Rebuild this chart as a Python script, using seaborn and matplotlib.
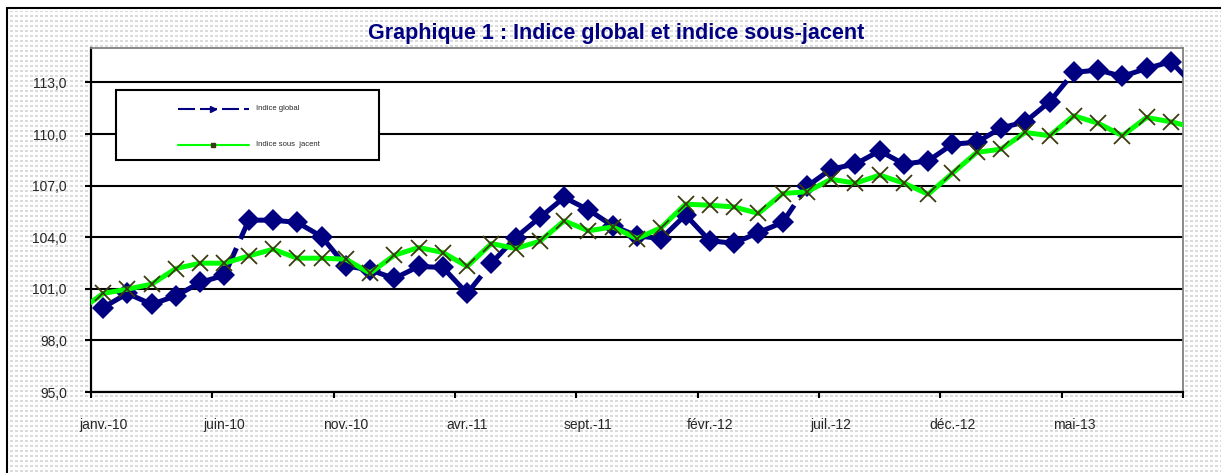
import numpy as np
import pandas as pd
import matplotlib
matplotlib.use("Agg")
import matplotlib.pyplot as plt
from matplotlib.lines import Line2D
from matplotlib.patches import Rectangle
from matplotlib.ticker import FuncFormatter
import seaborn as sns

# mois de déc.-09 à oct.-13 (position -1 à 45)
abrev = ["janv.", "févr.", "mars", "avr.", "mai", "juin",
         "juil.", "août", "sept.", "oct.", "nov.", "déc."]
mois = ["déc.-09"] + [m + "-" + a for a in ("10", "11", "12", "13") for m in abrev][:46]

indice_global = [np.nan,
                 99.91, 100.73, 100.10, 100.59, 101.37, 101.79, 104.99, 104.99, 104.86, 104.04,
                 102.33, 102.10, 101.60, 102.30, 102.24, 100.73, 102.49, 103.98, 105.15, 106.31,
                 105.59, 104.66, 104.08, 103.92, 105.30, 103.79, 103.65, 104.27, 104.86, 106.95,
                 107.96, 108.25, 109.02, 108.25, 108.44, 109.41, 109.52, 110.35, 110.71, 111.87,
                 113.58, 113.72, 113.35, 113.81, 114.20, 112.75]

indice_sous_jacent = [99.70,
                      100.73, 100.98, 101.27, 102.18, 102.49, 102.49, 102.91, 103.30, 102.78, 102.78,
                      102.72, 101.91, 102.95, 103.40, 103.11, 102.30, 103.63, 103.34, 103.77, 104.95,
                      104.37, 104.60, 103.92, 104.56, 105.92, 105.86, 105.76, 105.38, 106.54, 106.64,
                      107.37, 107.14, 107.61, 107.14, 106.50, 107.72, 108.93, 109.12, 110.09, 109.90,
                      111.06, 110.63, 109.90, 110.96, 110.71, 110.36]

tick_labels = ["janv.-10", "juin-10", "nov.-10", "avr.-11", "sept.-11",
               "févr.-12", "juil.-12", "déc.-12", "mai-13"]

df = pd.DataFrame({"mois": mois,
                   "pos": np.arange(-1, len(mois) - 1),
                   "global": indice_global,
                   "sous_jacent": indice_sous_jacent})

sns.set_style("white")
plt.rcParams["font.family"] = ["Liberation Sans", "DejaVu Sans"]
plt.rcParams["lines.scale_dashes"] = False

W, H = 1221, 473
PT = 0.72  # px -> pt


def fx(x):
    return x / W


def fy(y):
    return 1 - y / H


fig = plt.figure(figsize=(W / 100, H / 100), dpi=100)
fig.patch.set_facecolor("white")

# fond pointillé
bg = np.ones((H, W, 3))
yy, xx = np.mgrid[0:H, 0:W]
dots = ((xx % 5) < 3) & ((yy % 5) < 2) & (xx > 9) & (yy > 10)
bg[dots] = 0.86
fig.figimage(bg, xo=0, yo=0, origin="upper", zorder=-1)

# cadre extérieur
fig.add_artist(Line2D([fx(7), fx(7)], [0, fy(8)], transform=fig.transFigure, color="black", lw=1.5))
fig.add_artist(Line2D([fx(7), 1], [fy(8), fy(8)], transform=fig.transFigure, color="black", lw=1.5))

ax = fig.add_axes([fx(91), fy(392), fx(1183 - 91), (392 - 48) / H])
ax.set_zorder(1)
ax.set_facecolor("white")

sns.lineplot(data=df, x="pos", y="global", ax=ax, color="#000080", lw=3.6,
             marker="D", markersize=11, markeredgewidth=0, zorder=3)
# tirets très longs, comme dans l'original
dash_px = [163, 10, 295, 9, 380, 9, 314, 9, 3000, 9]
ax.lines[-1].set_linestyle((0, [d * PT for d in dash_px]))

sns.lineplot(data=df, x="pos", y="sous_jacent", ax=ax, color="#00ff00", lw=3.6,
             marker="x", markersize=11.5, markeredgecolor="#3d3a10",
             markeredgewidth=1.3, zorder=4)

ax.set_xlim(-0.5, 44.5)
ax.set_ylim(95, 115)
ax.set_xlabel("")
ax.set_ylabel("")

ax.set_yticks(np.arange(95, 114, 3))
ax.yaxis.set_major_formatter(FuncFormatter(lambda v, p: f"{v:.1f}".replace(".", ",")))
ax.yaxis.grid(True, color="black", lw=1.5)
ax.set_axisbelow(True)

ax.set_xticks(np.arange(-0.5, 45, 5))
ax.set_xticklabels([])
ax.set_xticks(np.arange(0, 45, 5), minor=True)
ax.set_xticklabels(tick_labels, minor=True)

ax.tick_params(axis="x", which="major", direction="out", length=4.3, width=1.5, color="black")
ax.tick_params(axis="x", which="minor", length=0, pad=19, labelsize=10)
ax.tick_params(axis="y", direction="out", length=4.3, width=1.5, color="black", pad=13, labelsize=10)
ax.tick_params(left=True, bottom=True)

for s in ("left", "bottom"):
    ax.spines[s].set_color("black")
    ax.spines[s].set_linewidth(1.6)
for s in ("top", "right"):
    ax.spines[s].set_color("#808080")
    ax.spines[s].set_linewidth(1.3)

# légende
fig.add_artist(Rectangle((fx(116), fy(160)), fx(379 - 116), (160 - 90) / H,
                         transform=fig.transFigure, facecolor="white",
                         edgecolor="black", lw=1.5, zorder=5))
fig.add_artist(Line2D([fx(178), fx(249)], [fy(109), fy(109)], transform=fig.transFigure,
                      color="#000080", lw=1.5, linestyle=(0, (17 * PT, 5 * PT)), zorder=6))
fig.add_artist(Line2D([fx(213)], [fy(109)], transform=fig.transFigure, color="#000080",
                      marker=">", markersize=4, lw=0, zorder=7))
fig.add_artist(Line2D([fx(178), fx(249)], [fy(145), fy(145)], transform=fig.transFigure,
                      color="#00ff00", lw=1.5, zorder=6))
fig.add_artist(Line2D([fx(213)], [fy(145)], transform=fig.transFigure, color="#3d3a10",
                      marker="s", markersize=2.5, lw=0, zorder=7))
fig.text(fx(256), fy(109), "Indice global", fontsize=5.5, va="center", ha="left", zorder=7)
fig.text(fx(256), fy(145), "Indice sous  jacent", fontsize=5.5, va="center", ha="left", zorder=7)

fig.text(fx(616), fy(33), "Graphique 1 : Indice global et indice sous-jacent",
         fontsize=15.5, fontweight="bold", color="#000080", ha="center", va="center")

fig.savefig("out.png", dpi=100)
